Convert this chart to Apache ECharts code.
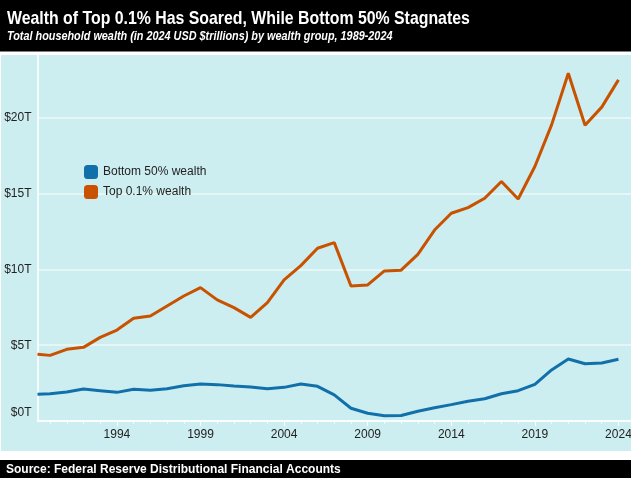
<!DOCTYPE html>
<html>
<head>
<meta charset="utf-8">
<script src="https://cdn.jsdelivr.net/npm/echarts@6/dist/echarts.min.js"></script>
<style>
    html, body { margin: 0; padding: 0; background: #fff; }
    #chart { width: 631px; height: 478px; }
</style>
</head>
<body>
<div id="chart"></div>
<script>
const years = [1989.25, 1990, 1991, 1992, 1993, 1994, 1995, 1996, 1997, 1998, 1999, 2000,
    2001, 2002, 2003, 2004, 2005, 2006, 2007, 2008, 2009, 2010, 2011, 2012,
    2013, 2014, 2015, 2016, 2017, 2018, 2019, 2020, 2021, 2022, 2023, 2024];
const bottom50 = [1.76, 1.80, 1.91, 2.11, 2.00, 1.89, 2.09, 2.03, 2.13, 2.33, 2.44, 2.40,
    2.31, 2.24, 2.13, 2.22, 2.44, 2.29, 1.72, 0.84, 0.51, 0.35, 0.36, 0.64,
    0.88, 1.08, 1.30, 1.47, 1.80, 2.00, 2.42, 3.37, 4.09, 3.78, 3.83, 4.07];
const top01 = [4.40, 4.33, 4.73, 4.86, 5.52, 6.00, 6.78, 6.93, 7.59, 8.25, 8.80, 7.99,
    7.48, 6.84, 7.81, 9.31, 10.25, 11.40, 11.77, 8.91, 8.98, 9.90, 9.95, 11.00,
    12.60, 13.71, 14.08, 14.70, 15.80, 14.65, 16.79, 19.54, 22.95, 19.52, 20.71, 22.51];
const labelYears = [1994, 1999, 2004, 2009, 2014, 2019, 2024];
const yTicks = [0, 5, 10, 15, 20];

const minorYears = [];
for (let y = 1990; y <= 2024; y++) minorYears.push(y);

const BLUE = '#1170AA';
const ORANGE = '#C85200';
const GRIDLINE = '#eef8f9';

function pairs(vals) {
    return years.map((y, i) => [y, vals[i]]);
}

const chart = echarts.init(document.getElementById('chart'), null, {renderer: 'canvas'});

let option = {
    backgroundColor: '#cdeef0',
    animation: false,
    textStyle: {fontFamily: '"Liberation Sans", Arial, sans-serif'},
    grid: {left: 37.5, right: 0, top: 55, bottom: 57, containLabel: false, outerBoundsMode: 'none'},
    legend: {
        orient: 'vertical',
        left: 84,
        top: 165,
        icon: 'roundRect',
        itemWidth: 14,
        itemHeight: 14,
        itemGap: 6,
        padding: 0,
        textStyle: {fontSize: 12, color: '#222'},
        data: ['Bottom 50% wealth', 'Top 0.1% wealth']
    },
    xAxis: [{
        type: 'value',
        min: 1989.25,
        max: 2024.75,
        splitLine: {show: false},
        axisLine: {show: true, lineStyle: {color: '#ffffff', width: 1.5}},
        axisTick: {show: true, customValues: labelYears, length: 5, lineStyle: {color: '#ffffff', width: 1}},
        axisLabel: {customValues: labelYears, fontSize: 12, color: '#222', margin: 8, formatter: v => String(v)}
    }, {
        type: 'value',
        min: 1989.25,
        max: 2024.75,
        position: 'bottom',
        splitLine: {show: false},
        axisLine: {show: false},
        axisTick: {show: true, customValues: minorYears, length: 2.5, lineStyle: {color: '#ffffff', width: 1}},
        axisLabel: {show: false}
    }],
    yAxis: {
        type: 'value',
        min: 0,
        max: 24.15,
        axisLine: {show: true, lineStyle: {color: '#ffffff', width: 1.5}},
        axisTick: {show: false, customValues: yTicks},
        splitLine: {show: true, lineStyle: {color: GRIDLINE, width: 1.5}},
        axisLabel: {
            customValues: yTicks,
            fontSize: 12,
            color: '#222',
            margin: 6,
            // the $0T label sits a little above the axis line in the original
            formatter: v => v === 0 ? '{z|$0T}' : '$' + v + 'T',
            rich: {z: {fontSize: 12, color: '#222', padding: [0, 0, 16, 0]}}
        }
    },
    series: [{
        name: 'Bottom 50% wealth',
        type: 'line',
        xAxisIndex: 0,
        symbol: 'none',
        color: BLUE,
        lineStyle: {width: 3, color: BLUE},
        itemStyle: {color: BLUE},
        data: pairs(bottom50)
    }, {
        name: 'Top 0.1% wealth',
        type: 'line',
        xAxisIndex: 0,
        symbol: 'none',
        color: ORANGE,
        lineStyle: {width: 3, color: ORANGE},
        itemStyle: {color: ORANGE},
        data: pairs(top01)
    }],
    graphic: [
        // white gaps around the plot panel
        {type: 'rect', shape: {x: 0, y: 51, width: 631, height: 4}, style: {fill: '#fff'}, z: 50},
        {type: 'rect', shape: {x: 0, y: 451, width: 631, height: 9}, style: {fill: '#fff'}, z: 50},
        {type: 'rect', shape: {x: 0, y: 0, width: 1, height: 478}, style: {fill: '#fff'}, z: 50},
        // header and footer bars
        {type: 'rect', shape: {x: 0, y: 0, width: 631, height: 51.5}, style: {fill: '#000'}, z: 51},
        {type: 'rect', shape: {x: 0, y: 460, width: 631, height: 18}, style: {fill: '#000'}, z: 51},
        {
            type: 'text', x: 7, y: 18.5, scaleX: 0.857, z: 52,
            style: {
                text: 'Wealth of Top 0.1% Has Soared, While Bottom 50% Stagnates',
                fill: '#fff',
                font: 'bold 18.5px "Liberation Sans", Arial, sans-serif',
                textVerticalAlign: 'middle'
            }
        },
        {
            type: 'text', x: 7, y: 37, scaleX: 0.868, z: 52,
            style: {
                text: 'Total household wealth (in 2024 USD $trillions) by wealth group, 1989-2024',
                fill: '#fff',
                font: 'italic bold 12.5px "Liberation Sans", Arial, sans-serif',
                textVerticalAlign: 'middle'
            }
        },
        {
            type: 'text', x: 6, y: 470, z: 52,
            style: {
                text: 'Source: Federal Reserve Distributional Financial Accounts',
                fill: '#fff',
                font: 'bold 12px "Liberation Sans", Arial, sans-serif',
                textVerticalAlign: 'middle'
            }
        }
    ]
};

chart.setOption(option);
</script>
</body>
</html>
